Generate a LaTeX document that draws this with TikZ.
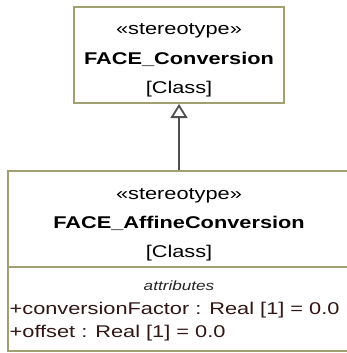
\documentclass[tikz,border=0pt]{standalone}
\usepackage{fontspec}
\setmainfont{Liberation Sans}[FakeStretch=1.28]
\usetikzlibrary{arrows.meta}
\definecolor{boxline}{RGB}{160,160,112}
\definecolor{arrowgray}{RGB}{80,80,80}
\definecolor{attrtext}{RGB}{50,22,22}
\tikzset{
  classbox/.style={draw=boxline, line width=2pt, fill=white, inner sep=0pt},
  txt/.style={inner sep=0pt, anchor=base, font=\fontsize{17pt}{20pt}\selectfont, text=black},
  boldtxt/.style={txt, font=\fontsize{17pt}{20pt}\selectfont\bfseries},
  attrhead/.style={inner sep=0pt, anchor=base, font=\fontsize{13.4pt}{16pt}\selectfont\itshape, text=black!85},
  attr/.style={inner sep=0pt, anchor=base west, font=\fontsize{17pt}{20pt}\selectfont, text=attrtext},
  divider/.style={draw=boxline, line width=2pt},
  generalization/.style={draw=arrowgray, line width=1.8pt, -{Triangle[open, length=14pt, width=17pt, fill=white]}}
}
\begin{document}
\begin{tikzpicture}[x=1pt, y=-1pt]
\useasboundingbox (0,0) rectangle (347,353);
\clip (0,0) rectangle (347,353);
\fill[white] (0,0) rectangle (347,353);
% top class
\node[classbox, minimum width=210pt, minimum height=96pt] (top) at (179,55) {};
\node[txt] (t1) at (179,35) {«stereotype»};
\node[boldtxt] (t2) at (179,64) {FACE\_Conversion};
\node[txt] (t3) at (179,93) {[Class]};
% bottom class
\node[classbox, minimum width=342pt, minimum height=180pt] (bot) at (179,261) {};
\node[txt] (b1) at (179,199) {«stereotype»};
\node[boldtxt] (b2) at (179,228) {FACE\_AffineConversion};
\node[txt] (b3) at (179,257) {[Class]};
\coordinate (divL) at (8,267);
\coordinate (divR) at (350,267);
\draw[divider] (divL) -- (divR);
\node[attrhead] (ah) at (179,290) {attributes};
\node[attr] (a1) at (9.5,314) {+conversionFactor : Real [1] = 0.0};
\node[attr] (a2) at (9.5,337) {+offset : Real [1] = 0.0};
% generalization
\draw[generalization] (bot.north) -- (top.south);
\end{tikzpicture}
\end{document}
